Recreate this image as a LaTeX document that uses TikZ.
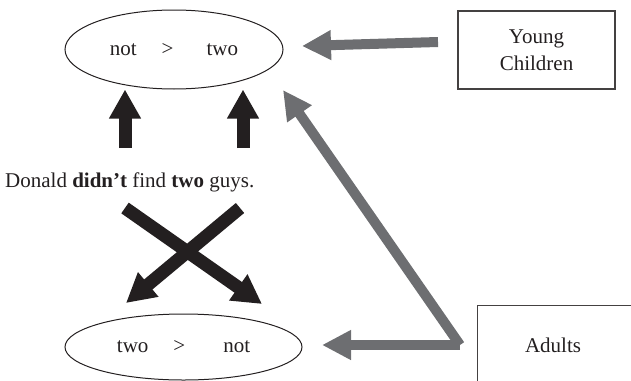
\documentclass[tikz,border=0pt]{standalone}
\usepackage{fontspec}
\setmainfont{Liberation Serif}
\usetikzlibrary{arrows.meta,shapes.geometric}
\definecolor{ink}{HTML}{231F20}
\definecolor{greyink}{HTML}{6D6E71}
\begin{document}
\begin{tikzpicture}[x=1pt,y=-1pt,
  every node/.style={font=\fontsize{21}{27}\selectfont, inner sep=0pt, text=ink},
  oval/.style={draw=ink, ellipse, line width=1pt},
  box/.style={draw=ink!85, line width=1.2pt, rectangle},
  blackarrow/.style={draw=ink, line width=13pt, -{Triangle[length=29pt,width=30pt]}},
  greyshaft/.style={draw=greyink, line width=10pt, -{Triangle[length=29pt,width=28pt]}},
]
\clip (0,0) rectangle (631,380);
% ellipses
\node[oval, minimum width=218pt, minimum height=79pt] (top) at (174,49.5) {not\hspace{25pt}>\hspace{33pt}two};
\node[oval, minimum width=237pt, minimum height=66pt] (bottom) at (183.5,347) {two\hspace{25pt}>\hspace{38pt}not};
% sentence
\node[anchor=base west] (sentence) at (5,187) {Donald \textbf{didn’t} find \textbf{two} guys.};
% boxes
\node[box, minimum width=157pt, minimum height=78pt, align=center] (young) at (536.5,50) {Young\\Children};
\node[box, minimum width=190pt, minimum height=100pt, anchor=north west] (adults) at (477,305) {};
\node (adultslabel) at (553,345) {Adults};
% coordinates
\coordinate (upL) at (125,148);
\coordinate (upR) at (243,148);
\coordinate (xLtail) at (240,208);
\coordinate (xLtip) at (126,303);
\coordinate (xRtail) at (125,208);
\coordinate (xRtip) at (262,304);
\coordinate (ytail) at (438,42);
\coordinate (ytip) at (302,46);
\coordinate (corner) at (460,345);
\coordinate (diagtip) at (283,90);
\coordinate (horztip) at (322,345);
% black arrows
\draw[blackarrow] (upL) -- (upL |- top.south);
\draw[blackarrow] (upR) -- (upR |- top.south);
\draw[blackarrow] (xLtail) -- (xLtip);
\draw[blackarrow] (xRtail) -- (xRtip);
% grey arrows
\draw[greyshaft] (ytail) -- (ytip);
\draw[greyshaft] (corner) -- (diagtip);
\draw[greyshaft] (corner) -- (horztip);
\end{tikzpicture}
\end{document}
